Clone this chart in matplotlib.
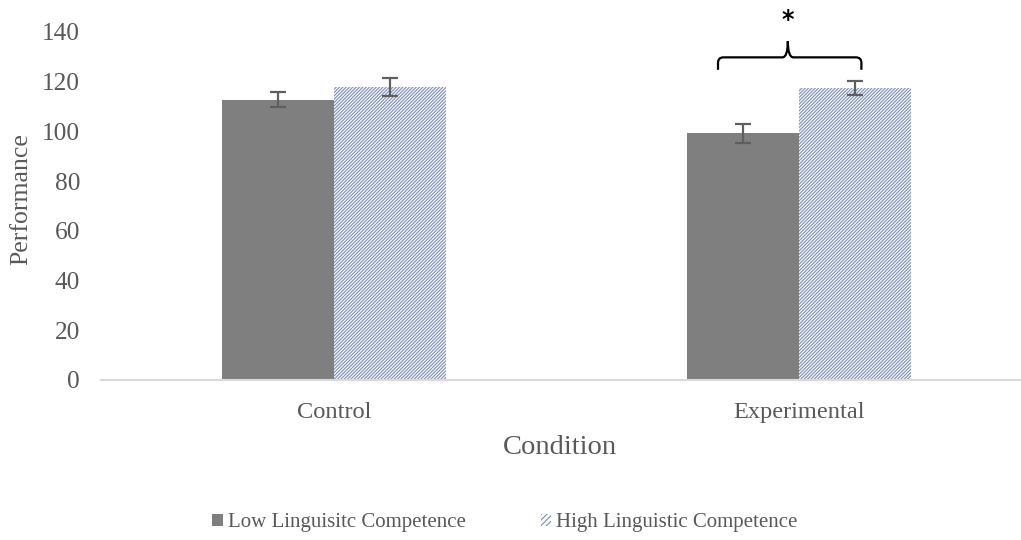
import matplotlib
matplotlib.use("Agg")
import matplotlib.pyplot as plt
import numpy as np
from matplotlib.path import Path
from matplotlib.patches import PathPatch, Patch

categories = ["Control", "Experimental"]
series_names = ["Low Linguisitc Competence", "High Linguistic Competence"]
low_values = [112.8, 99.2]
high_values = [117.8, 117.6]
low_err = [3.0, 3.7]
high_err = [3.5, 2.8]
yticks = [0, 20, 40, 60, 80, 100, 120, 140]

plt.rcParams['font.family'] = ['Liberation Serif', 'DejaVu Serif']
txt = '#595959'

fig = plt.figure(figsize=(10.21, 5.40), dpi=100)
W, H = 1021, 540
ax = fig.add_axes([101 / W, 1 - 380 / H, (1032 - 101) / W, (380 - 32) / H])

x = np.arange(len(categories))
w = 0.241
low_color = '#7F7F7F'
hatch_color = '#8595BC'
plt.rcParams['hatch.linewidth'] = 0.9

ax.bar(x - w / 2, low_values, w, color=low_color, zorder=2)
ax.bar(x + w / 2, high_values, w, facecolor='white', edgecolor=hatch_color,
       hatch='//////////', linewidth=0, zorder=2)
ekw = dict(fmt='none', ecolor='#5F5F5F', elinewidth=1.6, capsize=5.8, capthick=1.6, zorder=3)
ax.errorbar(x - w / 2, low_values, yerr=low_err, **ekw)
ax.errorbar(x + w / 2, high_values, yerr=high_err, **ekw)

ax.set_xlim(-0.5, 1.5)
ax.set_ylim(0, 140)
ax.set_yticks(yticks)
ax.set_xticks(x)
ax.set_xticklabels(categories)
ax.tick_params(axis='both', length=0, colors=txt)
ax.tick_params(axis='y', pad=15, labelsize=18.3)
ax.tick_params(axis='x', pad=16, labelsize=17.6)
for s in ['top', 'right', 'left']:
    ax.spines[s].set_visible(False)
ax.spines['bottom'].set_color('#D9D9D9')
ax.spines['bottom'].set_linewidth(1.5)

ax.set_ylabel('Performance', fontsize=18.5, color=txt)
ax.yaxis.set_label_coords(-69 / 931, 0.52)
ax.set_xlabel('Condition', fontsize=20.5, color=txt, labelpad=8)
ax.xaxis.set_label_coords((560 - 101) / 931, -(447 - 380) / 348)
ax.xaxis.label.set_va('center')

# significance brace over Experimental group
gi = 1
x0 = x[gi] - w / 2 - 0.054
x1 = x[gi] + w / 2 + 0.013
xm = (x0 + x1) / 2 - 0.004
top = max(low_values[gi] + low_err[gi], high_values[gi] + high_err[gi])
yb = top + 4.4
yh = yb + 5.0
yp = yh + 6.5
dx = 0.012
dy = 2.2
verts = [(x0, yb), (x0, yh - dy), (x0, yh), (x0 + dx, yh),
         (xm - dx, yh), (xm, yh), (xm, yp),
         (xm, yh), (xm + dx, yh),
         (x1 - dx, yh), (x1, yh), (x1, yh - dy), (x1, yb)]
codes = [Path.MOVETO, Path.LINETO, Path.CURVE3, Path.CURVE3,
         Path.LINETO, Path.CURVE3, Path.CURVE3,
         Path.CURVE3, Path.CURVE3,
         Path.LINETO, Path.CURVE3, Path.CURVE3, Path.LINETO]
ax.add_patch(PathPatch(Path(verts, codes), facecolor='none', edgecolor='black',
                       linewidth=1.6, clip_on=False, zorder=4))
ax.text(xm, yp + 8.5, '*', ha='center', va='center', fontsize=17,
        fontweight='bold', family='DejaVu Sans', color='black', clip_on=False)

handles = [Patch(facecolor=low_color, edgecolor='none'),
           Patch(facecolor='white', edgecolor=hatch_color, hatch='//////', linewidth=0)]
fig.legend(handles, series_names, loc='center', bbox_to_anchor=(505 / W, 1 - 523 / H),
           ncol=2, frameon=False, fontsize=15.0, labelcolor=txt,
           handlelength=0.5, handleheight=0.5, handletextpad=0.25, columnspacing=3.6)

fig.savefig('out.png', dpi=100)
